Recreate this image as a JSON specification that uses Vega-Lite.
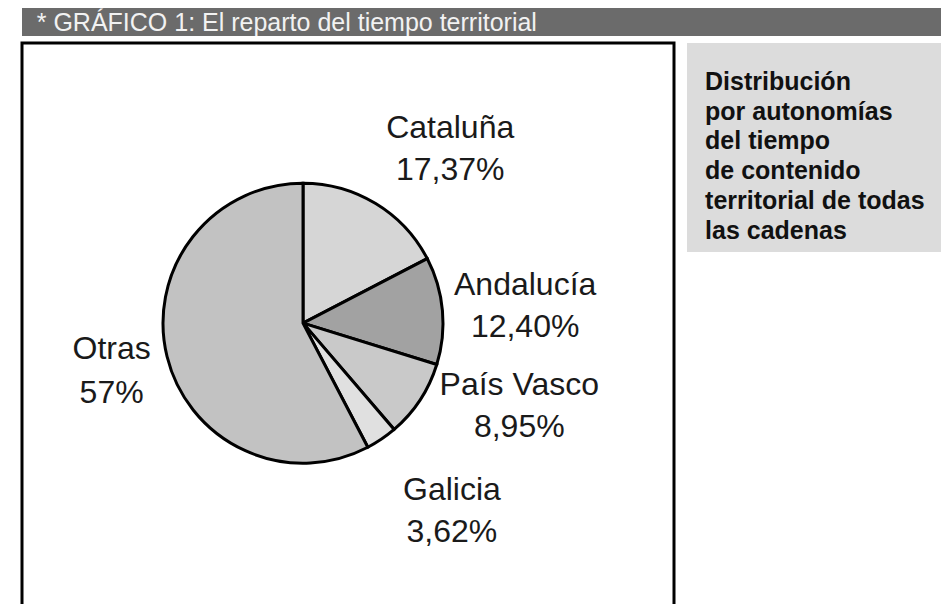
{
  "$schema": "https://vega.github.io/schema/vega-lite/v6.json",
  "padding": {"left": 20, "top": 8, "right": 0, "bottom": 0},
  "background": "white",
  "config": {"view": {"stroke": null}, "font": "Liberation Sans"},
  "datasets": {
    "reparto": [
      {"grafico": "Reparto", "region": "Cataluña", "pct": 17.37, "orden": 1, "etiqueta": "Cataluña\n17,37%"},
      {"grafico": "Reparto", "region": "Andalucía", "pct": 12.40, "orden": 2, "etiqueta": "Andalucía\n12,40%"},
      {"grafico": "Reparto", "region": "País Vasco", "pct": 8.95, "orden": 3, "etiqueta": "País Vasco\n8,95%"},
      {"grafico": "Reparto", "region": "Galicia", "pct": 3.62, "orden": 4, "etiqueta": "Galicia\n3,62%"},
      {"grafico": "Reparto", "region": "Otras", "pct": 57.66, "orden": 5, "etiqueta": "Otras\n57%"}
    ]
  },
  "spacing": 5,
  "vconcat": [
    {
      "width": 921,
      "height": 28,
      "view": {"fill": "#6b6b6b", "stroke": null},
      "data": {"values": [{"titulo": "* GRÁFICO 1: El reparto del tiempo territorial"}]},
      "mark": {"type": "text", "align": "left", "baseline": "alphabetic", "font": "Liberation Sans", "fontSize": 25, "color": "#f2f2f2"},
      "encoding": {
        "x": {"field": "titulo", "type": "nominal", "axis": null, "scale": {"type": "point", "align": 0.016}},
        "y": {"field": "titulo", "type": "nominal", "axis": null, "scale": {"type": "point", "align": 0.82}},
        "text": {"field": "titulo"}
      }
    },
    {
      "spacing": 11,
      "hconcat": [
        {
          "width": 652,
          "height": 580,
          "view": {"fill": "white", "stroke": "black", "strokeWidth": 3},
          "data": {"name": "reparto"},
          "encoding": {
            "theta": {"field": "pct", "type": "quantitative", "stack": true},
            "order": {"field": "orden", "type": "quantitative"},
            "x": {"field": "grafico", "type": "nominal", "axis": null, "scale": {"type": "point", "align": 0.431}},
            "y": {"field": "grafico", "type": "nominal", "axis": null, "scale": {"type": "point", "align": 0.483}}
          },
          "layer": [
            {
              "mark": {"type": "arc", "outerRadius": 140, "stroke": "black", "strokeWidth": 3},
              "encoding": {
                "color": {
                  "field": "region", "type": "nominal", "legend": null,
                  "scale": {
                    "domain": ["Cataluña", "Andalucía", "País Vasco", "Galicia", "Otras"],
                    "range": ["#d6d6d6", "#a2a2a2", "#c9c9c9", "#e0e0e0", "#c2c2c2"]
                  }
                }
              }
            },
            {
              "mark": {"type": "text", "radius": 220, "dx": 33, "dy": 3, "align": "center", "baseline": "alphabetic", "lineBreak": "\n", "lineHeight": 42, "fontSize": 32, "font": "Liberation Sans", "color": "#1a1a1a"},
              "encoding": {
                "detail": {"field": "region", "type": "nominal"},
                "text": {"condition": {"test": "datum.region === 'Cataluña'", "field": "etiqueta"}, "value": ""}
              }
            },
            {
              "mark": {"type": "text", "radius": 215, "dx": 8, "dy": -9, "align": "center", "baseline": "alphabetic", "lineBreak": "\n", "lineHeight": 42, "fontSize": 32, "font": "Liberation Sans", "color": "#1a1a1a"},
              "encoding": {
                "detail": {"field": "region", "type": "nominal"},
                "text": {"condition": {"test": "datum.region === 'Andalucía'", "field": "etiqueta"}, "value": ""}
              }
            },
            {
              "mark": {"type": "text", "radius": 230, "dx": 24, "dy": -54, "align": "center", "baseline": "alphabetic", "lineBreak": "\n", "lineHeight": 42, "fontSize": 32, "font": "Liberation Sans", "color": "#1a1a1a"},
              "encoding": {
                "detail": {"field": "region", "type": "nominal"},
                "text": {"condition": {"test": "datum.region === 'País Vasco'", "field": "etiqueta"}, "value": ""}
              }
            },
            {
              "mark": {"type": "text", "radius": 230, "dx": 20, "dy": -14, "align": "center", "baseline": "alphabetic", "lineBreak": "\n", "lineHeight": 42, "fontSize": 32, "font": "Liberation Sans", "color": "#1a1a1a"},
              "encoding": {
                "detail": {"field": "region", "type": "nominal"},
                "text": {"condition": {"test": "datum.region === 'Galicia'", "field": "etiqueta"}, "value": ""}
              }
            },
            {
              "mark": {"type": "text", "radius": 195, "dx": -2, "dy": -11, "align": "center", "baseline": "alphabetic", "lineBreak": "\n", "lineHeight": 44, "fontSize": 32, "font": "Liberation Sans", "color": "#1a1a1a"},
              "encoding": {
                "detail": {"field": "region", "type": "nominal"},
                "text": {"condition": {"test": "datum.region === 'Otras'", "field": "etiqueta"}, "value": ""}
              }
            }
          ]
        },
        {
          "width": 258,
          "height": 209,
          "view": {"fill": "#dcdcdc", "stroke": null},
          "data": {"values": [{"nota": "Distribución\npor autonomías\ndel tiempo\nde contenido\nterritorial de todas\nlas cadenas"}]},
          "mark": {"type": "text", "align": "left", "baseline": "alphabetic", "lineBreak": "\n", "lineHeight": 29.7, "fontSize": 25, "fontWeight": "bold", "font": "Liberation Sans", "color": "#111111"},
          "encoding": {
            "x": {"field": "nota", "type": "nominal", "axis": null, "scale": {"type": "point", "align": 0.07}},
            "y": {"field": "nota", "type": "nominal", "axis": null, "scale": {"type": "point", "align": 0.225}},
            "text": {"field": "nota"}
          }
        }
      ]
    }
  ]
}
